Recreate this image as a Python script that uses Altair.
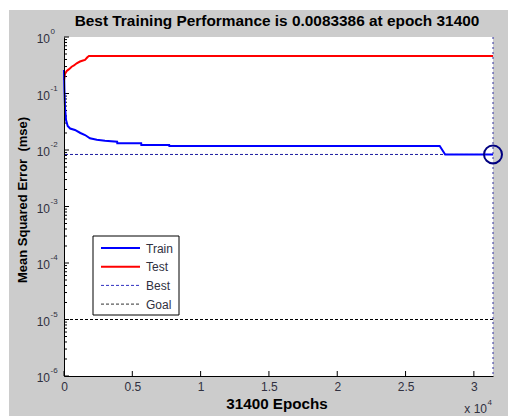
import altair as alt
import pandas as pd

# Training record (epoch, mean squared error)
train_epoch = [0, 30, 70, 150, 270, 450, 800, 1200, 1540, 1900, 2400, 3000,
               3890, 3900, 5650, 5660, 7700, 7710, 27500, 27900, 31400]
train_mse = [0.26, 0.12, 0.06, 0.034, 0.0266, 0.024, 0.0226, 0.020, 0.0184,
             0.0161, 0.0152, 0.0146, 0.0140, 0.0131, 0.0131, 0.0123, 0.0123,
             0.0118, 0.0118, 0.0083386, 0.0083386]
test_epoch = [0, 70, 200, 370, 560, 730, 930, 1170, 1390, 1540, 1710, 1830, 31400]
test_mse = [0.173, 0.221, 0.25, 0.27, 0.298, 0.313, 0.342, 0.368, 0.384,
            0.392, 0.437, 0.461, 0.461]
best_epoch = 31400
best_mse = 0.0083386
goal_mse = 1e-5
max_epoch = 31400

x_tick_values = [0, 5000, 10000, 15000, 20000, 25000, 30000]
y_exponents = [0, -1, -2, -3, -4, -5, -6]
legend_labels = ["Train", "Test", "Best", "Goal"]

FONT = "Liberation Sans"
LABEL = "#303040"
W, H = 429, 339

xs = alt.Scale(domain=[0, max_epoch], nice=False, zero=False)
ys = alt.Scale(type="log", domain=[1e-6, 1], nice=False)

train_df = pd.DataFrame({"epoch": train_epoch, "mse": train_mse})
test_df = pd.DataFrame({"epoch": test_epoch, "mse": test_mse})
one = pd.DataFrame({"k": [0]})

# panel backgrounds
gray_bg = alt.Chart(one).mark_rect(color="#cccccc").encode(
    x=alt.value(-55), x2=alt.value(444), y=alt.value(-27), y2=alt.value(379))
white_bg = alt.Chart(one).mark_rect(color="white").encode(
    x=alt.value(0), x2=alt.value(W), y=alt.value(0), y2=alt.value(H))

# axes: domain lines and x labels
axes = alt.Chart(pd.DataFrame({"epoch": [0], "mse": [1e-6]})).mark_point(opacity=0).encode(
    x=alt.X("epoch:Q", scale=xs, axis=alt.Axis(
        values=x_tick_values, labelExpr="datum.value / 10000", ticks=False,
        labelFlush=False, labelOverlap=False,
        domainColor="black", domainWidth=1, labelFont=FONT, labelFontSize=12,
        labelColor=LABEL, labelPadding=5, grid=False, title=None, zindex=1)),
    y=alt.Y("mse:Q", scale=ys, axis=alt.Axis(
        labels=False, ticks=False, domainColor="black", domainWidth=1,
        grid=False, title=None, zindex=1)),
)

# inward tick marks
ytick_rows = []
for e in range(-6, 1):
    ytick_rows.append({"mse": 10.0 ** e, "major": True})
    if e < 0:
        for m in range(2, 10):
            ytick_rows.append({"mse": m * 10.0 ** e, "major": False})
ytick_df = pd.DataFrame(ytick_rows)
ymajor = alt.Chart(ytick_df[ytick_df.major]).mark_rule(color="black", strokeWidth=1).encode(
    y=alt.Y("mse:Q", scale=ys), x=alt.value(0), x2=alt.value(5))
yminor = alt.Chart(ytick_df[~ytick_df.major]).mark_rule(color="black", strokeWidth=1).encode(
    y=alt.Y("mse:Q", scale=ys), x=alt.value(0), x2=alt.value(3))
xticks = alt.Chart(pd.DataFrame({"epoch": x_tick_values})).mark_rule(color="black", strokeWidth=1).encode(
    x=alt.X("epoch:Q", scale=xs), y=alt.value(H), y2=alt.value(H - 5))

# y decade labels with superscript exponents
dec_df = pd.DataFrame({"mse": [10.0 ** e for e in y_exponents],
                       "exp": [str(e) for e in y_exponents]})
ylab_base = alt.Chart(dec_df).mark_text(
    font=FONT, fontSize=12, color=LABEL, align="right", baseline="middle", dy=2).encode(
    y=alt.Y("mse:Q", scale=ys), x=alt.value(-14), text=alt.value("10"))
ylab_exp = alt.Chart(dec_df).mark_text(
    font=FONT, fontSize=8, color=LABEL, align="left", baseline="middle", dy=-5).encode(
    y=alt.Y("mse:Q", scale=ys), x=alt.value(-13.5), text="exp:N")

# data lines
train_line = alt.Chart(train_df).mark_line(color="#0000ff", strokeWidth=2).encode(
    x=alt.X("epoch:Q", scale=xs), y=alt.Y("mse:Q", scale=ys))
test_line = alt.Chart(test_df).mark_line(color="#ff0000", strokeWidth=2).encode(
    x=alt.X("epoch:Q", scale=xs), y=alt.Y("mse:Q", scale=ys))

best_h = alt.Chart(pd.DataFrame({"mse": [best_mse]})).mark_rule(
    color="#1c1ca0", strokeWidth=1, strokeDash=[3, 2]).encode(y=alt.Y("mse:Q", scale=ys))
best_v = alt.Chart(pd.DataFrame({"epoch": [best_epoch]})).mark_rule(
    color="#3030a0", strokeWidth=1, strokeDash=[2, 3]).encode(x=alt.X("epoch:Q", scale=xs))
goal_h = alt.Chart(pd.DataFrame({"mse": [goal_mse]})).mark_rule(
    color="black", strokeWidth=1, strokeDash=[3, 2]).encode(y=alt.Y("mse:Q", scale=ys))
best_pt = alt.Chart(pd.DataFrame({"epoch": [best_epoch], "mse": [best_mse]})).mark_point(
    shape="circle", filled=False, size=324, strokeWidth=2, color="#000080", opacity=1).encode(
    x=alt.X("epoch:Q", scale=xs), y=alt.Y("mse:Q", scale=ys))

# legend box
leg_box = alt.Chart(one).mark_rect(fill="white", stroke="black", strokeWidth=1).encode(
    x=alt.value(29), x2=alt.value(115), y=alt.value(199), y2=alt.value(278))
leg_styles = {
    "Train": dict(color="#0000ff", strokeWidth=2),
    "Test": dict(color="#ff0000", strokeWidth=2),
    "Best": dict(color="#3030c0", strokeWidth=1, strokeDash=[3, 2]),
    "Goal": dict(color="#303030", strokeWidth=1, strokeDash=[3, 2]),
}
leg_layers = []
for i, lab in enumerate(legend_labels):
    yy = 211 + i * 18.7
    leg_layers.append(alt.Chart(one).mark_rule(**leg_styles[lab]).encode(
        x=alt.value(37), x2=alt.value(76), y=alt.value(yy)))
    leg_layers.append(alt.Chart(one).mark_text(
        font=FONT, fontSize=12, color=LABEL, align="left", baseline="middle").encode(
        x=alt.value(82), y=alt.value(yy + 0.5), text=alt.value(lab)))

# titles
title_txt = alt.Chart(one).mark_text(
    font=FONT, fontSize=15.4, fontWeight="bold", color="black", align="center", baseline="middle").encode(
    x=alt.value(213), y=alt.value(-16),
    text=alt.value(f"Best Training Performance is {best_mse} at epoch {best_epoch}"))
xtitle = alt.Chart(one).mark_text(
    font=FONT, fontSize=15.2, fontWeight="bold", color="black", align="center", baseline="middle").encode(
    x=alt.value(213), y=alt.value(367), text=alt.value(f"{max_epoch} Epochs"))
ytitle = alt.Chart(one).mark_text(
    font=FONT, fontSize=13, fontWeight="bold", color="black", align="center", baseline="middle",
    angle=270).encode(
    x=alt.value(-41), y=alt.value(163), text=alt.value("Mean Squared Error\u00a0 (mse)"))
xmult = alt.Chart(one).mark_text(
    font=FONT, fontSize=12, color=LABEL, align="right", baseline="middle").encode(
    x=alt.value(423), y=alt.value(372), text=alt.value("x 10"))
xmult_exp = alt.Chart(one).mark_text(
    font=FONT, fontSize=8, color=LABEL, align="left", baseline="middle").encode(
    x=alt.value(423.5), y=alt.value(366), text=alt.value("4"))

chart = alt.layer(
    gray_bg, white_bg, axes, yminor, ymajor, xticks, ylab_base, ylab_exp,
    goal_h, best_h, best_v, test_line, train_line, best_pt,
    leg_box, *leg_layers, title_txt, xtitle, ytitle, xmult, xmult_exp,
).properties(
    width=W, height=H,
    padding={"left": 64, "top": 37, "right": 15, "bottom": 40},
    autosize=alt.AutoSizeParams(type="none"),
    background="white",
).configure_view(stroke=None)

chart.save("out.html", embed_options={"renderer": "svg", "actions": False})
